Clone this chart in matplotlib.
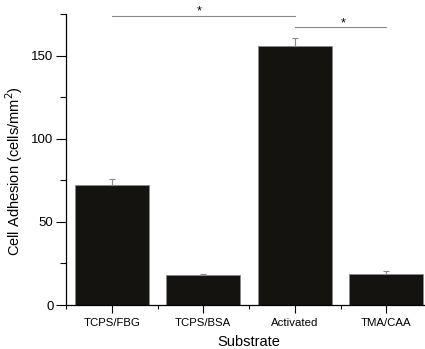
import matplotlib.pyplot as plt
import numpy as np
from matplotlib.ticker import MultipleLocator

plt.rcParams['font.family'] = ['Liberation Sans', 'DejaVu Sans']

# dados
substratos = ['TCPS/FBG', 'TCPS/BSA', 'Activated', 'TMA/CAA']
adesao = [72, 18, 156, 18.7]
erro = [3.5, 0.7, 4.6, 1.8]

fig = plt.figure(figsize=(4.25, 3.49), dpi=100)
ax = fig.add_axes([66 / 425, 44 / 349, 366 / 425, 291 / 349])

x = np.arange(len(substratos))
ax.bar(x, adesao, width=0.81, color='#15130f', edgecolor='#8a8a8a', linewidth=0.6,
       yerr=[np.zeros(len(erro)), erro], error_kw=dict(ecolor='#8a8a8a', elinewidth=0.8,
                                                        capsize=2.5, capthick=0.8))

ax.set_xlim(-0.5, 3.5)
ax.set_ylim(0, 175)
ax.set_xticks(x)
ax.set_xticklabels(substratos, fontsize=8.2)
ax.xaxis.set_minor_locator(MultipleLocator(1, offset=0.5))
ax.yaxis.set_major_locator(MultipleLocator(50))
ax.yaxis.set_minor_locator(MultipleLocator(25))
ax.tick_params(axis='y', which='major', length=7, width=0.8, labelsize=9.5, pad=2)
ax.tick_params(axis='y', which='minor', length=4, width=0.8)
ax.tick_params(axis='x', which='major', length=6, width=0.8, pad=3)
ax.tick_params(axis='x', which='minor', length=3, width=0.8)
for s in ['top', 'right']:
    ax.spines[s].set_visible(False)
for s in ['left', 'bottom']:
    ax.spines[s].set_linewidth(0.9)

ax.set_xlabel('Substrate', fontsize=10.5, labelpad=5.5)
ax.set_ylabel('Cell Adhesion (cells/mm$^2$)', fontsize=10.5)
ax.yaxis.set_label_coords(-0.112, 0.46)

# significancia
ax.plot([0, 2], [173.7, 173.7], color='#8a8a8a', lw=0.8, clip_on=False)
ax.text(0.96, 172.8, '*', ha='center', va='bottom', fontsize=9)
ax.plot([2, 3], [166.9, 166.9], color='#8a8a8a', lw=0.8, clip_on=False)
ax.text(2.53, 166.0, '*', ha='center', va='bottom', fontsize=9)

fig.savefig('out.png', dpi=100)
